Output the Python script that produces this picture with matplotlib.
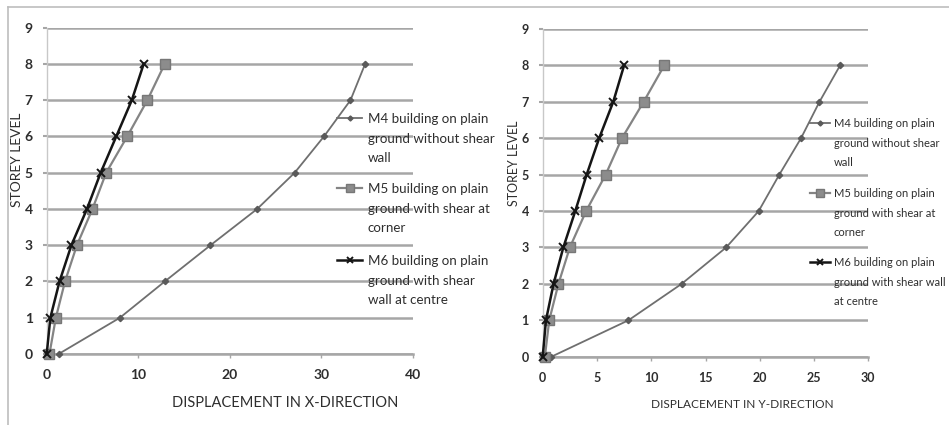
import matplotlib
matplotlib.use("Agg")
import matplotlib.pyplot as plt
from matplotlib.lines import Line2D

plt.rcParams.update({
    "font.family": ["Lato", "DejaVu Sans"],
})

# storey levels and lateral displacements
levels = [0, 1, 2, 3, 4, 5, 6, 7, 8]

x_m4 = [1.3, 8.0, 12.9, 17.9, 23.0, 27.1, 30.3, 33.2, 34.8]
x_m5 = [0.3, 1.0, 2.0, 3.3, 5.0, 6.5, 8.8, 11.0, 12.9]
x_m6 = [0.0, 0.4, 1.4, 2.7, 4.4, 5.9, 7.6, 9.3, 10.6]

y_m4 = [0.8, 7.9, 12.8, 16.9, 19.9, 21.8, 23.8, 25.5, 27.4]
y_m5 = [0.2, 0.6, 1.45, 2.5, 4.0, 5.8, 7.3, 9.3, 11.2]
y_m6 = [0.0, 0.3, 1.0, 1.9, 3.0, 4.05, 5.2, 6.5, 7.5]

labels_x = ["M4 building on plain\nground without shear\nwall",
            "M5 building on plain\nground with shear at\ncorner",
            "M6 building on plain\nground with shear\nwall at centre"]
labels_y = ["M4 building on plain\nground without shear\nwall",
            "M5 building on plain\nground with shear at\ncorner",
            "M6 building on plain\nground with shear wall\nat centre"]

W, H = 949, 425
fig = plt.figure(figsize=(W / 100, H / 100), dpi=100)

TXT = "#2e2e2e"
GRID = "#a6a6a6"
STYLES = [
    dict(color="#6f6f6f", lw=1.3, marker="D", ms=3.2, mfc="#5a5a5a", mec="#5a5a5a"),
    dict(color="#848484", lw=1.6, marker="s", ms=7, mfc="#8c8c8c", mec="#777777"),
    dict(color="#151515", lw=1.8, marker="x", ms=6, mew=1.4),
]


def px_axes(x0, x1, y_top, y_bot):
    return fig.add_axes([x0 / W, 1 - y_bot / H, (x1 - x0) / W, (y_bot - y_top) / H])


def panel(ax, series, xmax, xstep, tick_fs):
    for vals, st in zip(series, STYLES):
        ax.plot(vals, levels, clip_on=False, zorder=3, **st)
    ax.set_xlim(0, xmax)
    ax.set_ylim(0, 9)
    ax.set_xticks(range(0, xmax + 1, xstep))
    ax.set_yticks(range(0, 10))
    ax.grid(axis="y", color=GRID, lw=1.8)
    ax.set_axisbelow(True)
    for s in ["top", "right"]:
        ax.spines[s].set_visible(False)
    ax.spines["left"].set_color("#c8c8c8")
    ax.spines["left"].set_linewidth(1.0)
    ax.spines["bottom"].set_color(GRID)
    ax.spines["bottom"].set_linewidth(1.8)
    ax.tick_params(axis="y", length=3, width=1.5, color=GRID, pad=7,
                   labelsize=tick_fs, labelcolor=TXT)
    ax.tick_params(axis="x", length=3, width=1.0, color=GRID, pad=8,
                   labelsize=tick_fs, labelcolor=TXT)
    for t in ax.get_xticklabels() + ax.get_yticklabels():
        t.set_fontweight("bold")


def legend(x_line0, x_line1, x_text, ys, labels, fs, spacing):
    # handle sits level with the first line of each wrapped label
    for y, lab, st in zip(ys, labels, STYLES):
        yf = 1 - y / H
        fig.add_artist(Line2D([x_line0 / W, x_line1 / W], [yf, yf],
                              transform=fig.transFigure, color=st["color"], lw=st["lw"]))
        mk = {k: v for k, v in st.items() if k not in ("color", "lw")}
        mk["ms"] = mk["ms"] * 0.8
        fig.add_artist(Line2D([(x_line0 + x_line1) / 2 / W], [yf],
                              transform=fig.transFigure, color=st["color"], lw=0, **mk))
        fig.text(x_text / W, yf + 0.011, lab, fontsize=fs, color=TXT, va="top",
                 ha="left", linespacing=spacing)


# X-direction panel
ax1 = px_axes(46.7, 412.7, 27.7, 354)
panel(ax1, [x_m4, x_m5, x_m6], 40, 10, 10)
legend(337, 362, 368, [118, 188, 260], labels_x, 9.6, 1.72)
fig.text(17 / W, 1 - 160 / H, "STOREY LEVEL", rotation=90, fontsize=10,
         color=TXT, ha="center", va="center")
fig.text(285 / W, 1 - 403 / H, "DISPLACEMENT IN X-DIRECTION", fontsize=10.5,
         color=TXT, ha="center", va="center")

# Y-direction panel
ax2 = px_axes(542.7, 868.3, 29, 356.7)
panel(ax2, [y_m4, y_m5, y_m6], 30, 5, 9)
legend(810, 830, 834, [123, 193, 262], labels_y, 8.0, 1.95)
fig.text(514 / W, 1 - 163 / H, "STOREY LEVEL", rotation=90, fontsize=9,
         color=TXT, ha="center", va="center")
fig.text(742 / W, 1 - 405 / H, "DISPLACEMENT IN Y-DIRECTION", fontsize=8.6,
         color=TXT, ha="center", va="center")

# outer frame (top and left edges only)
fig.add_artist(Line2D([8 / W, 1], [1 - 7 / H, 1 - 7 / H], transform=fig.transFigure,
                      color="#bdbdbd", lw=1.2))
fig.add_artist(Line2D([8 / W, 8 / W], [0, 1 - 7 / H], transform=fig.transFigure,
                      color="#bdbdbd", lw=1.2))

fig.savefig("out.png", dpi=100)
